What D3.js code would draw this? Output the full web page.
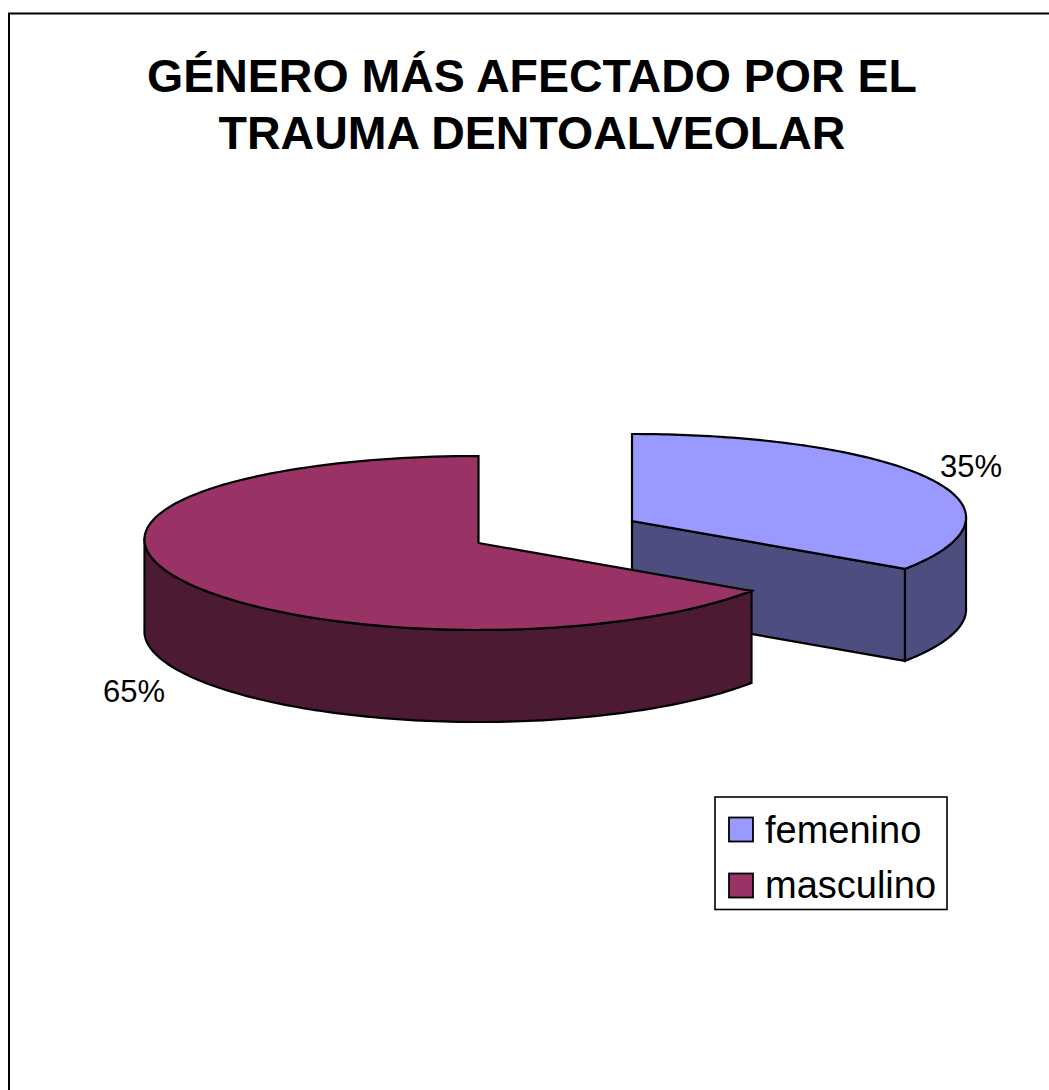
<!DOCTYPE html>
<html><head><meta charset="utf-8">
<script src="https://cdn.jsdelivr.net/npm/d3@7"></script>
<style>html,body{margin:0;padding:0;background:#fff}svg{display:block}text{font-family:"Liberation Sans",Arial,sans-serif;fill:#000}</style>
</head><body><svg id="c" width="1049" height="1090"></svg>
<script>
const titleLines = ["GÉNERO MÁS AFECTADO POR EL", "TRAUMA DENTOALVEOLAR"];
const categories = ["femenino", "masculino"];
const values = [35, 65];
const labels = ["35%", "65%"];
const topColors = ["#9999ff", "#993366"];
const sideColors = ["#4d4d80", "#4d1a33"];

const svg = d3.select("#c");
// frame: only the top and left edges are visible in the picture
svg.append("path").attr("d","M9,1090V13.5H1049").attr("fill","none").attr("stroke","#000").attr("stroke-width",2);

svg.selectAll("text.title").data(titleLines).join("text").attr("class","title")
  .attr("x",532).attr("y",(d,i)=>92+i*57).attr("text-anchor","middle")
  .attr("font-size",46.5).attr("font-weight","bold").text(d=>d);

const RX=334, RY=87, DEPTH=92, PERSP=0.0175, LIFT=5;
const centers=[[632,521],[478.5,543]];
const arcs=d3.pie().sort(null).value(d=>d)(values);
const ex=d3.scaleLinear().domain([-1,1]).range([-RX,RX]);
const ey=d3.scaleLinear().domain([-1,1]).range([-RY,RY]);
// slightly perspective projection of the disc
const pt=(a,c,dz=0)=>[
  c[0]+ex(Math.sin(a)*(1-PERSP*Math.cos(a))),
  c[1]+ey(-Math.cos(a))-LIFT*Math.sin(a)*Math.sin(a)+dz];
const line=d3.line();
const sweep=(a0,a1,c,dz=0)=>d3.range(0,121).map(i=>pt(a0+(a1-a0)*i/120,c,dz));
const stroke=g=>g.attr("stroke","#000").attr("stroke-width",2.2).attr("stroke-linejoin","miter");

function drawWall(i){
  const a=arcs[i], c=centers[i];
  const lo=Math.max(a.startAngle,Math.PI/2), hi=Math.min(a.endAngle,3*Math.PI/2);
  const top=sweep(lo,hi,c), bot=sweep(lo,hi,c,DEPTH).reverse();
  stroke(svg.append("path").attr("d",line(top.concat(bot))+"Z").attr("fill",sideColors[i]));
}
function drawCut(i,angle){
  const c=centers[i], p=pt(angle,c);
  const poly=[c,p,[p[0],p[1]+DEPTH],[c[0],c[1]+DEPTH]];
  stroke(svg.append("path").attr("d",line(poly)+"Z").attr("fill",sideColors[i]));
}
function drawTop(i){
  const a=arcs[i], c=centers[i];
  stroke(svg.append("path").attr("d",line([c].concat(sweep(a.startAngle,a.endAngle,c)))+"Z").attr("fill",topColors[i]));
}
drawCut(0,arcs[0].endAngle);
drawWall(0);
drawTop(0);
drawWall(1);
drawTop(1);

svg.selectAll("text.pct").data(labels).join("text").attr("class","pct")
  .attr("x",(d,i)=>[971,134][i]).attr("y",(d,i)=>[477,702][i]).attr("text-anchor","middle")
  .attr("font-size",31).text(d=>d);

const lg=svg.append("g");
lg.append("rect").attr("x",715).attr("y",797).attr("width",232).attr("height",112.5)
  .attr("fill","#fff").attr("stroke","#000").attr("stroke-width",1.6);
categories.forEach((c,i)=>{
  const y=[829.5,885.5][i];
  lg.append("rect").attr("x",729).attr("y",y-12).attr("width",24).attr("height",24)
    .attr("fill",topColors[i]).attr("stroke","#000").attr("stroke-width",1.8);
  lg.append("text").attr("x",765).attr("y",[843,898][i]).attr("font-size",38).text(c);
});
</script></body></html>
